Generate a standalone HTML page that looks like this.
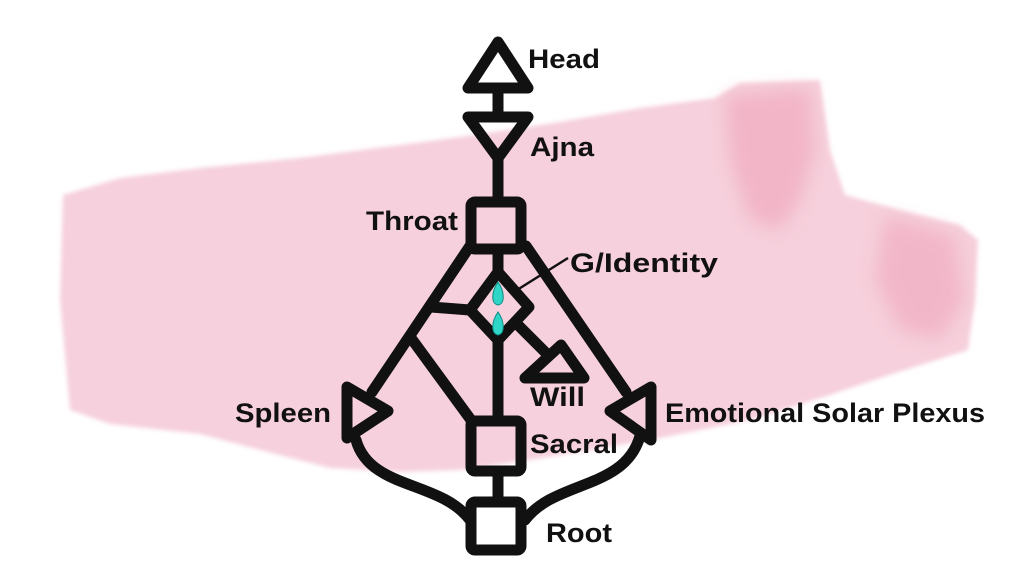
<!DOCTYPE html>
<html><head><meta charset="utf-8"><style>
html,body{margin:0;padding:0;background:#fff;}
svg{display:block}
text{font-family:"Liberation Sans",sans-serif;font-weight:bold;font-size:27px;fill:#111}
</style></head><body>
<svg width="1024" height="576" viewBox="0 0 1024 576" xmlns="http://www.w3.org/2000/svg">
<defs>
<filter id="b" x="-20%" y="-20%" width="140%" height="140%"><feGaussianBlur stdDeviation="9"/></filter>
<filter id="b2"><feGaussianBlur stdDeviation="2"/></filter>
</defs>
<path filter="url(#b2)" fill="#f6d0dc" d="M63,195 L120,178 L200,168 L300,158 L400,145 L460,137 L560,122 L640,108 L715,98 L740,83 L820,80 L830,150 L845,195 L900,210 L960,225 L978,240 L975,300 L968,350 L930,362 L880,378 L830,395 L750,420 L660,438 L590,450 L530,460 L460,470 L400,472 L330,468 L260,450 L200,434 L110,424 L70,410 L60,300 Z"/>
<path filter="url(#b)" fill="#ee9fb6" opacity="0.55" d="M725,95 L810,88 L815,150 L800,200 L780,230 L750,220 L730,160 Z"/>
<path filter="url(#b)" fill="#ee9fb6" opacity="0.5" d="M885,215 L955,235 L965,300 L940,340 L900,330 L875,280 Z"/>
<g fill="none" stroke="#111" stroke-width="11" stroke-linejoin="round" stroke-linecap="round">
<polygon points="498,42 528,88 468,88"/>
<polygon points="468,117 528,117 498,158"/>
<line x1="498" y1="88" x2="498" y2="117"/>
<line x1="498" y1="158" x2="498" y2="202"/>
<rect x="471" y="202" width="50" height="47" rx="4"/>
<line x1="498" y1="249" x2="498" y2="272"/>
<polygon points="498,272 529,307 498,340 470,310"/>
<line x1="498" y1="340" x2="498" y2="420"/>
<rect x="471" y="421" width="50" height="50" rx="4"/>
<line x1="498" y1="471" x2="498" y2="500"/>
<rect x="471" y="502" width="50" height="48" rx="4"/>
<line x1="470" y1="246" x2="372" y2="392"/>
<line x1="526" y1="246" x2="626" y2="392"/>
<line x1="431" y1="307" x2="470" y2="310"/>
<line x1="411" y1="338" x2="471" y2="420"/>
<line x1="519" y1="326" x2="545" y2="352"/>
<polygon points="347,387 388,411 347,438"/>
<polygon points="651,387 610,411 651,440"/>
<polygon points="561,345 584,378 525,378"/>
<path d="M356,440 C370,490 440,480 470,520"/>
<path d="M640,436 C625,490 555,480 525,520"/>
</g>
<line x1="517" y1="290" x2="568" y2="258" stroke="#111" stroke-width="2.5"/>
<g fill="#2fd6c8" stroke="#0a8a82" stroke-width="1">
<path d="M498,282 C505,292 505,304 498,305 C491,304 491,292 498,282 Z"/>
<path d="M498,312 C505,322 505,334 498,335 C491,334 491,322 498,312 Z"/>
</g>
<text x="528" y="68" textLength="72" lengthAdjust="spacingAndGlyphs">Head</text>
<text x="530" y="156" textLength="64" lengthAdjust="spacingAndGlyphs">Ajna</text>
<text x="366" y="230" textLength="92" lengthAdjust="spacingAndGlyphs">Throat</text>
<text x="570" y="272" textLength="148" lengthAdjust="spacingAndGlyphs">G/Identity</text>
<text x="530" y="406" textLength="55" lengthAdjust="spacingAndGlyphs">Will</text>
<text x="235" y="422" textLength="96" lengthAdjust="spacingAndGlyphs">Spleen</text>
<text x="665" y="422" textLength="320" lengthAdjust="spacingAndGlyphs">Emotional Solar Plexus</text>
<text x="530" y="453" textLength="88" lengthAdjust="spacingAndGlyphs">Sacral</text>
<text x="546" y="542" textLength="66" lengthAdjust="spacingAndGlyphs">Root</text>
</svg>
</body></html>
